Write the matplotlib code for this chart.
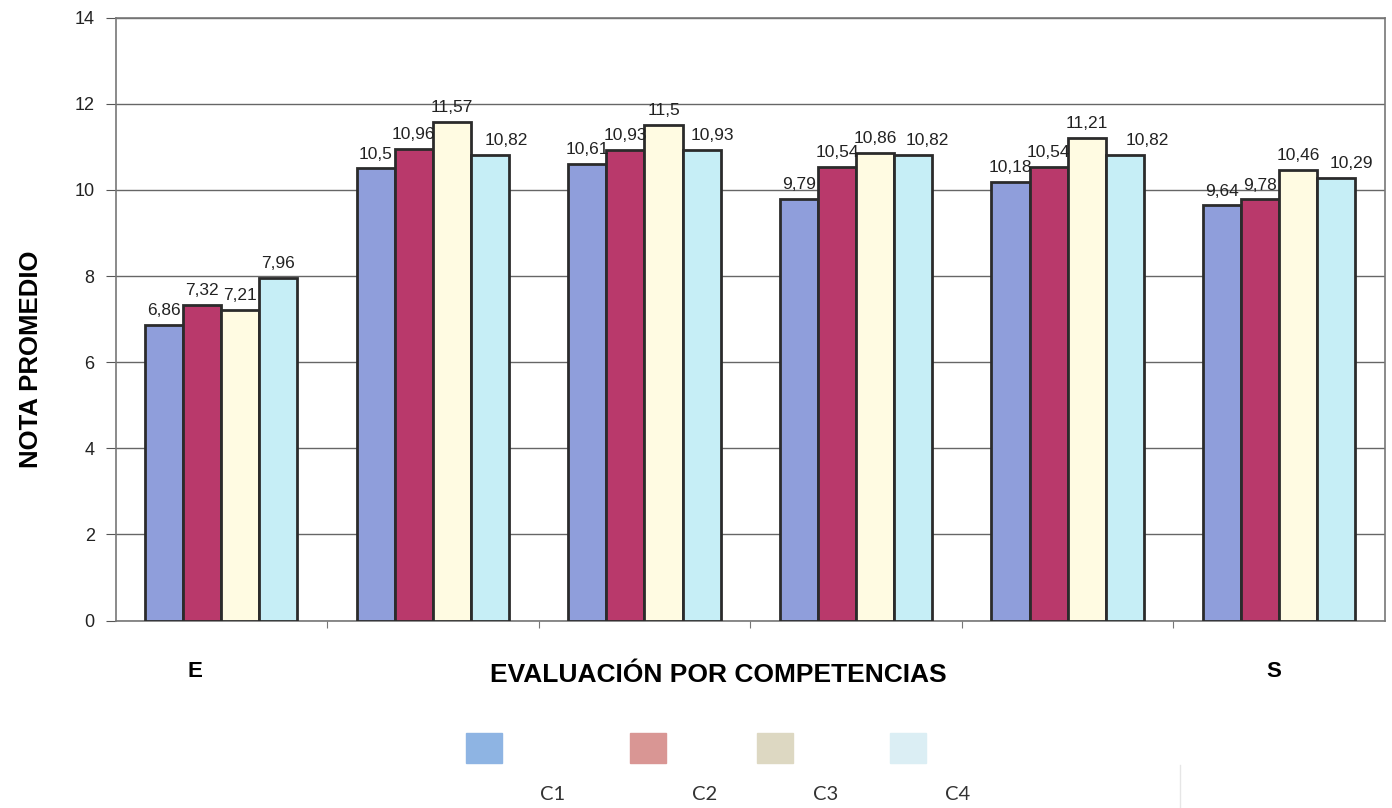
import matplotlib.pyplot as plt
from matplotlib.patches import Rectangle
import numpy as np

plt.rcParams["font.family"] = ["Liberation Sans", "DejaVu Sans"]

# valores por grupo (6 grupos de competencias)
c1 = [6.86, 10.5, 10.61, 9.79, 10.18, 9.64]
c2 = [7.32, 10.96, 10.93, 10.54, 10.54, 9.78]
c3 = [7.21, 11.57, 11.5, 10.86, 11.21, 10.46]
c4 = [7.96, 10.82, 10.93, 10.82, 10.82, 10.29]
series_names = ["C1", "C2", "C3", "C4"]
yticks = [0, 2, 4, 6, 8, 10, 12, 14]

bar_colors = ["#8f9edb", "#b9396b", "#fffbe2", "#c6eef6"]
legend_colors = ["#8eb4e3", "#d99694", "#ddd8c2", "#dbeef4"]
# desplazamiento horizontal (pt) de las etiquetas de C4, para que no choquen
c4_nudge = [0, 12, 8, 10, 16, 11]


def fmt(v):
    return ("%g" % v).replace(".", ",")


fig = plt.figure(figsize=(13.92, 8.08), dpi=100)
ax = fig.add_axes([0.083, 0.232, 0.912, 0.746])

x = np.arange(len(c1))
w = 0.18
data = [c1, c2, c3, c4]
for i, vals in enumerate(data):
    pos = x + (i - 1.5) * w
    ax.bar(pos, vals, width=w, color=bar_colors[i], edgecolor="#2b2b2b",
           linewidth=2, zorder=3)
    for j, (p, v) in enumerate(zip(pos, vals)):
        dx = c4_nudge[j] if i == 3 else 0
        ax.annotate(fmt(v), (p, v), xytext=(dx, 5), textcoords="offset points",
                    ha="center", va="bottom", fontsize=12.5, color="#222222",
                    zorder=4)

ax.set_xlim(-0.5, 5.5)
ax.set_ylim(0, 14)
ax.set_yticks(yticks)
ax.set_yticklabels([str(t) for t in yticks], fontsize=13, color="#222222")
ax.set_xticks(np.arange(0.5, 5.5, 1.0))
ax.set_xticklabels([])
ax.tick_params(axis="x", direction="out", length=5, color="#777777")
ax.tick_params(axis="y", direction="out", length=7, color="#555555", pad=8)
ax.yaxis.grid(True, color="#666666", linewidth=1.0, zorder=0)
for s in ax.spines.values():
    s.set_color("#777777")
    s.set_linewidth(1.2)

fig.text(0.022, 0.555, "NOTA PROMEDIO", rotation=90, ha="center", va="center",
         fontsize=18.5, fontweight="bold")
fig.text(0.140, 0.169, "E", ha="center", va="center", fontsize=16,
         fontweight="bold")
fig.text(0.516, 0.164, "EVALUACIÓN POR COMPETENCIAS", ha="center", va="center",
         fontsize=19, fontweight="bold")
fig.text(0.915, 0.169, "S", ha="center", va="center", fontsize=16,
         fontweight="bold")

# leyenda manual
sq_x = [466, 630, 757, 890]
lab_x = [553, 705, 826, 958]
for sx, lx, col, name in zip(sq_x, lab_x, legend_colors, series_names):
    fig.add_artist(Rectangle((sx / 1392, 1 - 763 / 808), 36 / 1392, 30 / 808,
                             transform=fig.transFigure, color=col))
    fig.text(lx / 1392, 1 - 795 / 808, name, ha="center", va="center",
             fontsize=14.5, color="#333333", family="Lato")

fig.add_artist(plt.Line2D([1180 / 1392, 1180 / 1392], [0, 1 - 765 / 808],
                          transform=fig.transFigure, color="#e6e6e6", linewidth=1))

fig.savefig("out.png", dpi=100)
